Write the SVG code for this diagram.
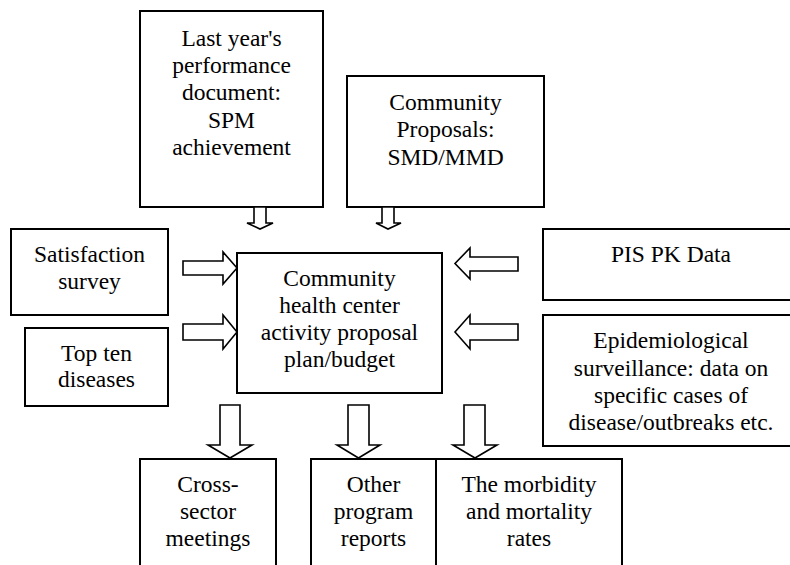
<svg xmlns="http://www.w3.org/2000/svg" width="790" height="565" viewBox="0 0 790 565">
<style>
.box{fill:#fff;stroke:#000;stroke-width:2}
.arr{fill:#fff;stroke:#000;stroke-width:1.6;stroke-linejoin:miter}
text{font-family:'Liberation Serif','DejaVu Serif','Noto Serif',Tinos,serif;font-size:23.5px;fill:#000;text-anchor:middle}
</style>
<rect width="790" height="565" fill="#fff"/>
<g id="last-year">
<rect class="box" x="140" y="11" width="183" height="196"/>
<text x="231.5" y="46">Last year's</text>
<text x="231.5" y="73">performance</text>
<text x="231.5" y="100">document:</text>
<text x="231.5" y="128">SPM</text>
<text x="231.5" y="155">achievement</text>
</g>
<g id="community-proposals">
<rect class="box" x="347" y="76" width="197" height="131"/>
<text x="445.5" y="110">Community</text>
<text x="445.5" y="137">Proposals:</text>
<text x="445.5" y="165">SMD/MMD</text>
</g>
<g id="satisfaction">
<rect class="box" x="11" y="229" width="157" height="86"/>
<text x="89.5" y="262">Satisfaction</text>
<text x="89.5" y="289">survey</text>
</g>
<g id="top-ten">
<rect class="box" x="25" y="328" width="143" height="78"/>
<text x="96.5" y="361">Top ten</text>
<text x="96.5" y="387">diseases</text>
</g>
<g id="center">
<rect class="box" x="237" y="253" width="205" height="140"/>
<text x="339.5" y="286">Community</text>
<text x="339.5" y="313">health center</text>
<text x="339.5" y="340">activity proposal</text>
<text x="339.5" y="367">plan/budget</text>
</g>
<g id="pis-pk">
<rect class="box" x="543" y="229" width="256" height="71"/>
<text x="671" y="262">PIS PK Data</text>
</g>
<g id="epidemiological">
<rect class="box" x="543" y="315" width="256" height="131"/>
<text x="671" y="348">Epidemiological</text>
<text x="671" y="376">surveillance: data on</text>
<text x="671" y="403">specific cases of</text>
<text x="671" y="430">disease/outbreaks etc.</text>
</g>
<g id="cross-sector">
<rect class="box" x="140" y="459" width="136" height="130"/>
<text x="208" y="492">Cross-</text>
<text x="208" y="519">sector</text>
<text x="208" y="546">meetings</text>
</g>
<g id="other-program">
<rect class="box" x="311" y="459" width="125" height="130"/>
<text x="373.5" y="492">Other</text>
<text x="373.5" y="519">program</text>
<text x="373.5" y="546">reports</text>
</g>
<g id="morbidity">
<rect class="box" x="436" y="459" width="186" height="130"/>
<text x="529" y="492">The morbidity</text>
<text x="529" y="519">and mortality</text>
<text x="529" y="546">rates</text>
</g>
<g id="connectors">
<polygon class="arr" points="254,207 266,207 266,223 273,223 260,229 247,223 254,223"/>
<polygon class="arr" points="382,207 394,207 394,223 401,223 388,229 376,223 382,223"/>
<polygon class="arr" points="183,261 223,261 223,252 237,268 223,284 223,275 183,275"/>
<polygon class="arr" points="183,324 223,324 223,315 237,332 223,349 223,340 183,340"/>
<polygon class="arr" points="518,257 470,257 470,248 455,263.5 470,279 470,271 518,271"/>
<polygon class="arr" points="518,324 470,324 470,315 455,332 470,349 470,340 518,340"/>
<polygon class="arr" points="220,405 240,405 240,445 252,445 230,458 208,445 220,445"/>
<polygon class="arr" points="348,405 369,405 369,445 380,445 358.5,458 337,445 348,445"/>
<polygon class="arr" points="464,405 485,405 485,445 497,445 475,458 453,445 464,445"/>
</g>
</svg>
